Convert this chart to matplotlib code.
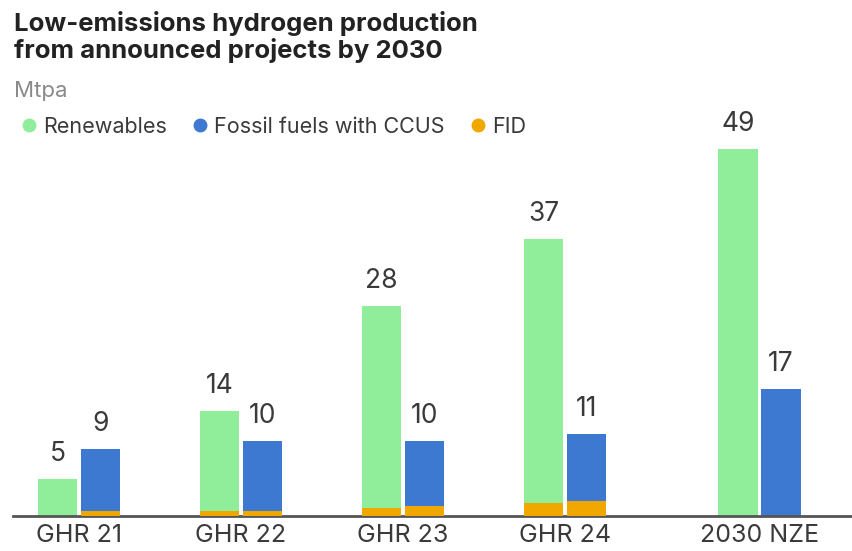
import matplotlib.pyplot as plt
from matplotlib.lines import Line2D

# data
groups = ["GHR 21", "GHR 22", "GHR 23", "GHR 24", "2030 NZE"]
renewables = [5, 14, 28, 37, 49]
fossil_ccus = [9, 10, 10, 11, 17]
fid_renewables = [0, 0.7, 1.1, 1.7, 0]
fid_fossil = [0.7, 0.7, 1.4, 2.0, 0]
xpos = [0, 1, 2, 3, 4.2]

GREEN = "#90ee9b"
BLUE = "#3d78d1"
ORANGE = "#f0a800"
TXT = "#3a3a3a"

plt.rcParams["font.family"] = ["Inter", "DejaVu Sans"]

W, H = 853, 551
fig = plt.figure(figsize=(W / 100, H / 100), dpi=100)
# axes: baseline at y=516 px, value 49 at y=149 px, left 13 px
ax = fig.add_axes([13 / W, (H - 516) / H, 1 - 13 / W, 367 / H])
ax.set_ylim(0, 49)
ax.set_xlim(-(79 - 13) / 162, (853 - 79) / 162)

bw = 0.245
off = 0.132
xr = [x - off for x in xpos]
xf = [x + off for x in xpos]

ax.bar(xr, renewables, width=bw, color=GREEN, zorder=2)
ax.bar(xf, fossil_ccus, width=bw, color=BLUE, zorder=2)
ax.bar(xr, fid_renewables, width=bw, color=ORANGE, zorder=3)
ax.bar(xf, fid_fossil, width=bw, color=ORANGE, zorder=3)

pad = 18 / 367 * 49
for x, v in zip(xr, renewables):
    ax.text(x, v + pad, str(v), ha="center", va="baseline", fontsize=19,
            color=TXT, clip_on=False)
for x, v in zip(xf, fossil_ccus):
    ax.text(x, v + pad, str(v), ha="center", va="baseline", fontsize=19,
            color=TXT, clip_on=False)

for s in ["top", "right", "left"]:
    ax.spines[s].set_visible(False)
ax.spines["bottom"].set_color("#555555")
ax.spines["bottom"].set_linewidth(2)
ax.set_yticks([])
ax.set_xticks(xpos)
ax.set_xticklabels(groups, fontsize=18, color=TXT)
ax.tick_params(axis="x", length=0, pad=6)

fig.text(14 / W, 1 - 11 / H, "Low-emissions hydrogen production\nfrom announced projects by 2030",
         ha="left", va="top", fontsize=18.5, fontweight="bold", color="#222222",
         linespacing=1.12)
fig.text(14 / W, 1 - 81 / H, "Mtpa", ha="left", va="top", fontsize=16, color="#8a8a8a")

handles = [Line2D([], [], marker="o", ls="", color=c, markersize=9)
           for c in (GREEN, BLUE, ORANGE)]
fig.legend(handles, ["Renewables", "Fossil fuels with CCUS", "FID"],
           loc="center left", bbox_to_anchor=(4 / W, 1 - 127 / H), ncol=3,
           frameon=False, fontsize=15.5, handletextpad=-0.1, columnspacing=0.8,
           handlelength=1.5, labelcolor=TXT, borderaxespad=0)

fig.savefig("out.png", dpi=100)
